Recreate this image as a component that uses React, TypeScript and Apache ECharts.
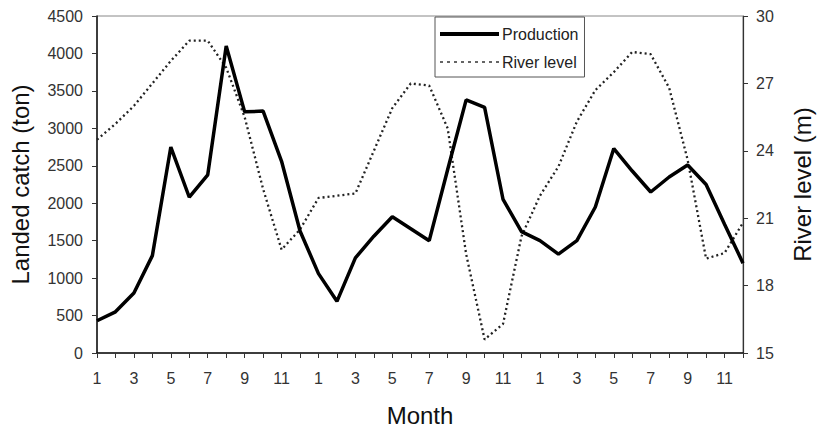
import React, { useEffect, useRef } from "react";
import * as echarts from "echarts";

const months: string[] = [
  "1","2","3","4","5","6","7","8","9","10","11","12",
  "1","2","3","4","5","6","7","8","9","10","11","12",
  "1","2","3","4","5","6","7","8","9","10","11","12",
];

const production: number[] = [
  430, 550, 800, 1300, 2750, 2080, 2380, 4100, 3220, 3230, 2560, 1630,
  1060, 690, 1270, 1560, 1820, 1660, 1500, 2450, 3380, 3280, 2050, 1620,
  1500, 1320, 1500, 1950, 2730, 2430, 2150, 2350, 2510, 2250, 1720, 1200,
];

const riverLevel: number[] = [
  24.5, 25.2, 26.0, 27.0, 28.0, 28.9, 28.9, 27.7, 25.5, 22.3, 19.6, 20.5,
  21.9, 22.0, 22.1, 24.0, 25.9, 27.0, 26.9, 25.0, 19.4, 15.6, 16.3, 20.2,
  22.0, 23.3, 25.3, 26.7, 27.5, 28.4, 28.3, 26.8, 23.6, 19.2, 19.45, 20.8,
];

const leftTicks = { min: 0, max: 4500, interval: 500 };
const rightTicks = { min: 15, max: 30, interval: 3 };

export default function App() {
  const ref = useRef<HTMLDivElement>(null);
  useEffect(() => {
    if (!ref.current) return;
    const chart = echarts.init(ref.current, null, { renderer: "svg" });
    const font = "Liberation Sans, Arial, sans-serif";
    chart.setOption({
      animation: false,
      backgroundColor: "#ffffff",
      textStyle: { fontFamily: font },
      grid: {
        left: 96,
        right: 72,
        top: 16,
        bottom: 81,
        show: true,
        borderColor: "#888",
        borderWidth: 1,
      },
      legend: {
        left: 435,
        top: 17,
        orient: "vertical",
        backgroundColor: "#fff",
        borderColor: "#555",
        borderWidth: 1,
        borderRadius: 0,
        padding: [9, 6, 7, 3],
        itemGap: 12,
        itemWidth: 59,
        itemHeight: 16,
        itemStyle: { opacity: 0 },
        textStyle: { fontSize: 16, color: "#222", fontFamily: font, padding: [0, 0, 0, -2] },
        data: [
          { name: "Production", lineStyle: { width: 4, color: "#000" } },
          { name: "River level", lineStyle: { width: 1.5, color: "#333", type: [3, 4] } },
        ],
      },
      xAxis: {
        type: "category",
        data: months,
        boundaryGap: false,
        name: "Month",
        nameLocation: "middle",
        nameGap: 50,
        nameTextStyle: { fontSize: 24, color: "#111", fontFamily: font },
        axisLine: { lineStyle: { color: "#111", width: 1.5 } },
        axisTick: { show: true, interval: 0, length: 5, lineStyle: { color: "#333" } },
        axisLabel: { interval: 1, fontSize: 16, color: "#333", margin: 17, fontFamily: font },
        splitLine: { show: false },
      },
      yAxis: [
        {
          type: "value",
          min: leftTicks.min,
          max: leftTicks.max,
          interval: leftTicks.interval,
          name: "Landed catch (ton)",
          nameLocation: "middle",
          nameGap: 65,
          nameTextStyle: { fontSize: 24, color: "#111", fontFamily: font },
          axisLine: { show: true, lineStyle: { color: "#111", width: 1.5 } },
          axisTick: { show: true, length: 5, lineStyle: { color: "#333" } },
          axisLabel: {
            fontSize: 16,
            color: "#333",
            margin: 14,
            fontFamily: font,
            formatter: (v: number) => String(v),
          },
          splitLine: { show: false },
        },
        {
          type: "value",
          min: rightTicks.min,
          max: rightTicks.max,
          interval: rightTicks.interval,
          name: "River level (m)",
          nameLocation: "middle",
          nameGap: 47,
          nameTextStyle: { fontSize: 24, color: "#111", fontFamily: font },
          axisLine: { show: true, lineStyle: { color: "#333", width: 1.2 } },
          axisTick: { show: true, length: 5, lineStyle: { color: "#333" } },
          axisLabel: {
            fontSize: 16,
            color: "#333",
            margin: 13,
            fontFamily: font,
            formatter: (v: number) => String(v),
          },
          splitLine: { show: false },
        },
      ],
      series: [
        {
          name: "River level",
          type: "line",
          yAxisIndex: 1,
          data: riverLevel,
          symbol: "none",
          lineStyle: { color: "#222", width: 2.3, type: [2, 3] },
          itemStyle: { color: "#222" },
          z: 2,
        },
        {
          name: "Production",
          type: "line",
          yAxisIndex: 0,
          data: production,
          symbol: "none",
          lineStyle: { color: "#000", width: 3.5 },
          itemStyle: { color: "#000" },
          z: 3,
        },
      ],
    });
    return () => chart.dispose();
  }, []);
  return (
    <div
      ref={ref}
      style={{ position: "absolute", left: 0, top: 0, width: 822, height: 434 }}
    />
  );
}
